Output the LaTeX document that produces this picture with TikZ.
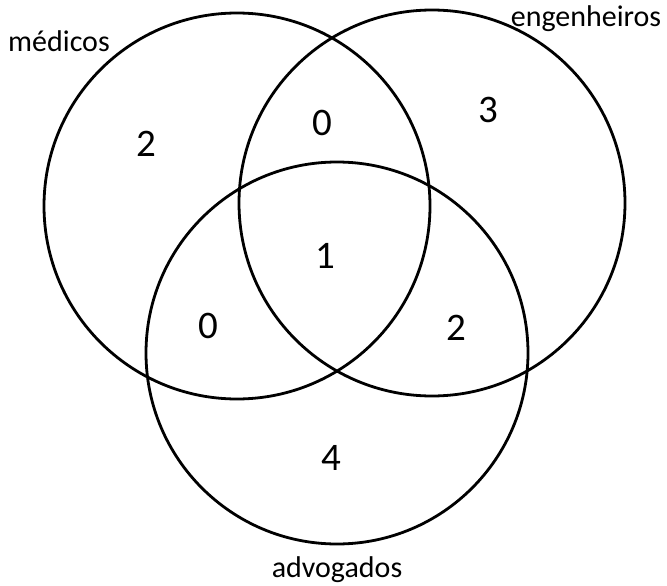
\documentclass[tikz,border=0pt]{standalone}
\usepackage{fontspec}
\setmainfont{Carlito}
\begin{document}
\begin{tikzpicture}[x=1pt,y=-1pt,
  setcirc/.style={circle, draw, line width=2.8pt, minimum size=386pt, inner sep=0pt},
  lbl/.style={font=\fontsize{30}{36}\selectfont, inner sep=0pt, anchor=base},
  num/.style={font=\fontsize{39}{46}\selectfont, inner sep=0pt}]
\useasboundingbox (0,0) rectangle (667,586);
\node[setcirc] (med) at (237,206) {};
\node[setcirc] (eng) at (432,203) {};
\node[setcirc, minimum size=382pt] (adv) at (337,353) {};
\node[lbl] (lmed) at (59,52) {médicos};
\node[lbl] (leng) at (586,27) {engenheiros};
\node[lbl] (ladv) at (337,577) {advogados};
\node[num] (n1) at (146,144) {2};
\node[num] (n2) at (322,123) {0};
\node[num] (n3) at (488,110) {3};
\node[num] (n4) at (325,256) {1};
\node[num] (n5) at (208,326) {0};
\node[num] (n6) at (456,328) {2};
\node[num] (n7) at (331,458) {4};
\end{tikzpicture}
\end{document}
